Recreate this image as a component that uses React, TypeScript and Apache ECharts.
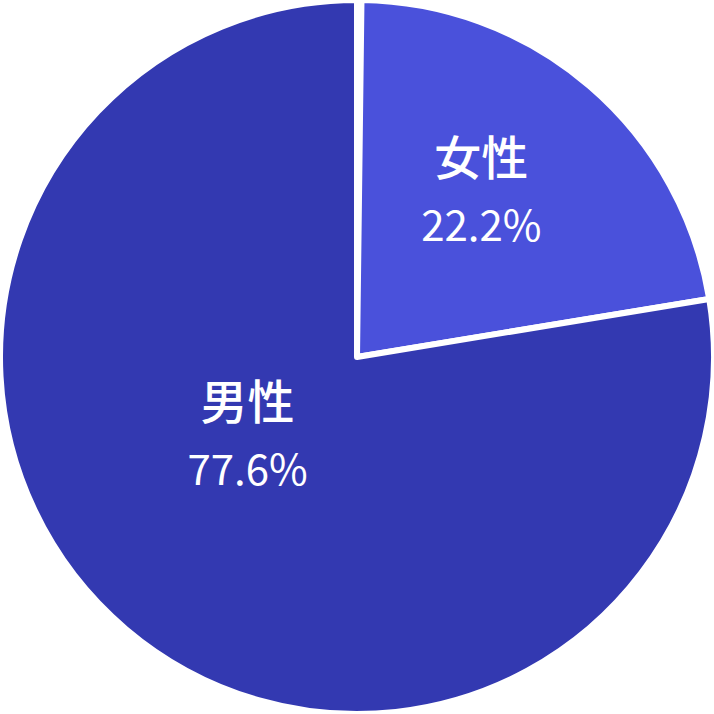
import { useEffect, useRef } from "react";
import * as echarts from "echarts";

const NAMES = ["", "女性", "男性"];
const VALUES = [0.2, 22.2, 77.6];
const COLORS = ["#ffffff", "#4A51DB", "#3339B1"];
const LABEL_OFFSETS: [number, number][] = [[0, 0], [6, -31], [8, -63]];

const FONT = "'Noto Sans CJK JP', 'Noto Sans', sans-serif";

export default function App() {
  const ref = useRef<HTMLDivElement>(null);
  useEffect(() => {
    if (!ref.current) return;
    const chart = echarts.init(ref.current, undefined, { renderer: "svg" });
    chart.setOption({
      animation: false,
      series: [{
        type: "pie",
        center: ["50%", "50%"],
        radius: "100%",
        startAngle: 90,
        clockwise: true,
        silent: true,
        labelLine: { show: false },
        itemStyle: { borderColor: "#ffffff", borderWidth: 6 },
        label: {
          show: true,
          position: "inside",
          fontFamily: FONT,
          color: "#ffffff",
          formatter: (p: any) => `{n|${p.name}}\n{p|${p.value}%}`,
          rich: {
            n: { fontFamily: FONT, fontSize: 47, fontWeight: 500, color: "#ffffff", lineHeight: 68, align: "center" },
            p: { fontFamily: FONT, fontSize: 42, color: "#ffffff", lineHeight: 68, align: "center" },
          },
        },
        data: NAMES.map((name, i) => ({
          name,
          value: VALUES[i],
          itemStyle: { color: COLORS[i] },
          label: i === 0 ? { show: false } : { offset: LABEL_OFFSETS[i] },
        })),
      }],
    });
    return () => chart.dispose();
  }, []);
  return (
    <div
      ref={ref}
      style={{ position: "fixed", left: 0, top: 0, width: 714, height: 714, background: "#ffffff" }}
    />
  );
}
